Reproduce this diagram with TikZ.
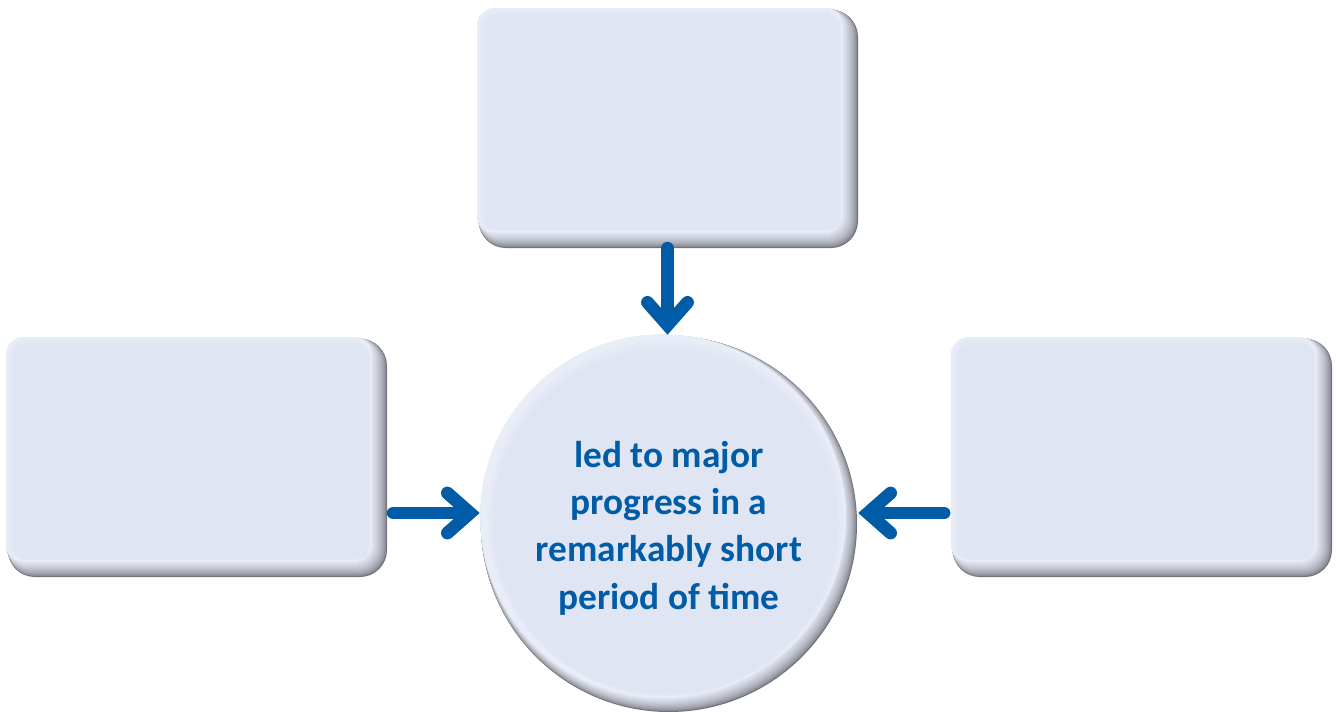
\documentclass[tikz,border=0pt]{standalone}
\usepackage{fontspec}
\setmainfont{Carlito}
\usetikzlibrary{arrows.meta,calc}
\definecolor{boxedge}{HTML}{6E707A}
\definecolor{boxlight}{HTML}{E9EDF7}
\definecolor{boxfill}{HTML}{DFE5F2}
\definecolor{arrblue}{HTML}{005CA6}
\newcommand\bevelbox[4]{%
  \foreach \i in {0,...,16}{%
    \pgfmathtruncatemacro\p{100*(\i/16)^0.55}%
    \pgfmathsetmacro\rr{(27-0.6*\i)*0.75}%
    \pgfmathsetmacro\off{1.8*(1-\i/16)}%
    \fill[boxlight!\p!boxedge, rounded corners=\rr pt] ({#1+\off},{#2+\off}) rectangle ({#3-\i},{#4-\i});
  }%
  \foreach \j in {0,...,6}{%
    \pgfmathtruncatemacro\q{100*\j/6}%
    \pgfmathsetmacro\rr{(18-\j)*0.75}%
    \fill[boxfill!\q!boxlight, rounded corners=\rr pt] ({#1+1.3*\j},{#2+1.3*\j}) rectangle ({#3-17-0.2*\j},{#4-17-0.2*\j});
  }%
}
\tikzset{
  boxnode/.style={rectangle, inner sep=0pt, minimum width=285.75pt, minimum height=180pt},
  circnode/.style={circle, inner sep=0pt, minimum size=283.5pt},
  lbl/.style={align=center, text=arrblue, font=\bfseries\fontsize{28}{35.5}\selectfont},
  arr/.style={draw=arrblue, line width=9.6pt, line cap=round,
    -{Straight Barb[length=17pt, width=30pt, line cap=round, line join=miter]}},
}
\begin{document}
\begin{tikzpicture}[x=0.75pt,y=-0.75pt]
\useasboundingbox (0,0) rectangle (1336,711);
% boxes
\bevelbox{477}{8}{858}{248}
\bevelbox{6}{337}{387}{577}
\bevelbox{951}{337}{1332}{577}
\node[boxnode] (top) at (667.5,128) {};
\node[boxnode] (left) at (196.5,457) {};
\node[boxnode] (right) at (1141.5,457) {};
% circle
\foreach \i in {0,...,16}{%
  \pgfmathtruncatemacro\p{100*(\i/16)^0.55}%
  \fill[boxlight!\p!boxedge] ({669-0.45*\i},{524-0.5*\i}) circle[radius={188-0.40625*\i}];
}
\foreach \j in {0,...,6}{%
  \pgfmathtruncatemacro\q{100*\j/6}%
  \fill[boxfill!\q!boxlight] ({666-0.1*\j},{517+0.8*\j}) circle[radius={180-1.3*\j}];
}
\node[circnode] (circ) at (669,524) {};
\node[lbl] (txt) at (669,528) {led to major\\progress in a\\remarkably short\\period of time};
% arrows
\draw[arr] (top.south) -- (top.south |- circ.north);
\draw[arr, shorten <=4.5pt] ([yshift=-42pt]left.east) -- ([yshift=-42pt]left.east -| circ.west);
\draw[arr, shorten <=5pt] ([yshift=-42pt]right.west) -- ([yshift=-42pt]right.west -| circ.east);
\end{tikzpicture}
\end{document}
